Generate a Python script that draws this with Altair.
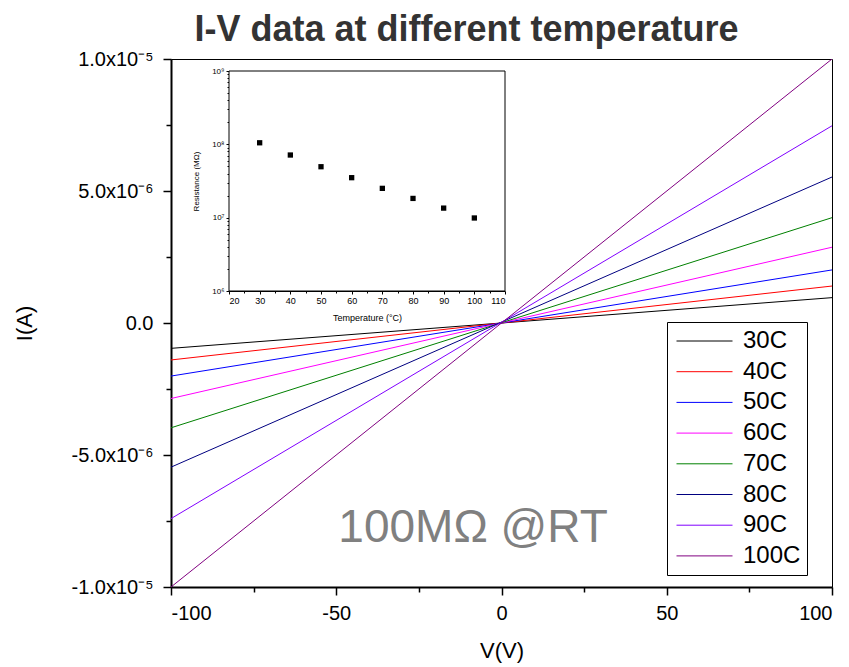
import altair as alt
import pandas as pd

# ---------------- data ----------------
temps = ["30C", "40C", "50C", "60C", "70C", "80C", "90C", "100C"]
colors = ["#000000", "#FF0000", "#0000FF", "#FF00FF", "#008000", "#000080", "#8000FF", "#800080"]
v_ends = [-100, 100]
i_at_neg100 = [-0.96e-6, -1.40e-6, -2.01e-6, -2.86e-6, -3.97e-6, -5.46e-6, -7.41e-6, -1.0e-5]
i_at_pos100 = [0.96e-6, 1.40e-6, 2.01e-6, 2.87e-6, 3.99e-6, 5.53e-6, 7.47e-6, 1.0e-5]

inset_temp = [30, 40, 50, 60, 70, 80, 90, 100]
inset_res = [1.05e8, 7.15e7, 4.95e7, 3.51e7, 2.51e7, 1.83e7, 1.35e7, 9.9e6]

x_tick_vals = [-100, -75, -50, -25, 0, 25, 50, 75, 100]
x_major = [-100, -50, 0, 50, 100]
x_labels = ["-100", "-50", "0", "50", "100"]
y_tick_vals = [-1e-5, -7.5e-6, -5e-6, -2.5e-6, 0, 2.5e-6, 5e-6, 7.5e-6, 1e-5]
y_major = [1e-5, 5e-6, 0, -5e-6, -1e-5]
y_labels = ["1.0x10\u207b\u2075", "5.0x10\u207b\u2076", "0.0", "-5.0x10\u207b\u2076", "-1.0x10\u207b\u2075"]

inset_x_vals = list(range(20, 115, 5))
inset_y_major = [1e6, 1e7, 1e8, 1e9]
inset_y_labels = ["10\u2076", "10\u2077", "10\u2078", "10\u2079"]
inset_y_vals = inset_y_major + [k * 10 ** n for n in (6, 7, 8) for k in range(2, 10)]

FONT = "Liberation Sans"

rows = []
for t, a, b in zip(temps, i_at_neg100, i_at_pos100):
    rows.append({"T": t, "V": v_ends[0], "I": a})
    rows.append({"T": t, "V": v_ends[1], "I": b})
df = pd.DataFrame(rows)


def label_map(vals, labels, tol):
    expr = "''"
    for v, l in zip(reversed(vals), reversed(labels)):
        expr = f"abs(datum.value - ({v})) < {tol} ? '{l}' : ({expr})"
    return expr


# ---------------- main axes ----------------
x_axis = alt.Axis(
    values=x_tick_vals,
    labelExpr=label_map(x_major, x_labels, 1e-6),
    title="V(V)", titleFontSize=22, titleFontWeight="normal", titlePadding=17,
    labelFontSize=20, labelPadding=8,
    tickSize={"condition": {"test": "datum.value % 50 == 0", "value": 8}, "value": 5},
    tickWidth=1.5, domainWidth=2, tickColor="black", domainColor="black",
    labelColor="black", titleColor="black", grid=False,
)
y_axis = alt.Axis(
    values=y_tick_vals,
    labelExpr=label_map(y_major, y_labels, 1e-9),
    title="I(A)", titleFontSize=22, titleFontWeight="normal", titlePadding=35,
    labelFontSize=20, labelPadding=10,
    tickSize={"condition": {"test": "abs(round(datum.value*1e7)) % 50 == 0", "value": 8}, "value": 5},
    tickWidth=1.5, domainWidth=2, tickColor="black", domainColor="black",
    labelColor="black", titleColor="black", grid=False,
)

main_x = alt.X("V:Q", scale=alt.Scale(domain=[-100, 100], nice=False, zero=False), axis=x_axis)
main_y = alt.Y("I:Q", scale=alt.Scale(domain=[-1e-5, 1e-5], nice=False), axis=y_axis)

lines = alt.Chart(df).mark_line(strokeWidth=1, clip=True).encode(
    x=main_x,
    y=main_y,
    color=alt.Color(
        "T:N",
        scale=alt.Scale(domain=temps, range=colors),
        legend=alt.Legend(
            title=None, orient="none", legendX=496, legendY=263,
            strokeColor="black", fillColor="white", padding=6,
            labelFontSize=24, labelFont=FONT, labelColor="black",
            symbolType="stroke", symbolSize=3136, symbolStrokeWidth=1,
            clipHeight=26, rowPadding=4.7, labelOffset=10, symbolOffset=3,
        ),
    ),
    detail="T:N",
)

annot_df = pd.DataFrame({"V": [-8.6], "I": [-8.3e-6], "txt": ["100M\u03a9 @RT"]})
annot = alt.Chart(annot_df).mark_text(
    fontSize=46, color="#808080", baseline="alphabetic", align="center", font=FONT
).encode(x=main_x, y=main_y, text="txt:N")

main = alt.layer(lines, annot)

# ---------------- inset ----------------
plot_h = 528
ix_axis = alt.Axis(
    orient="bottom", offset=-(plot_h - 232), values=inset_x_vals,
    labelExpr="datum.value % 10 == 0 ? datum.label : ''",
    title="Temperature (\u00b0C)", titleFontSize=9, titleFontWeight="normal", titlePadding=8,
    labelFontSize=9, labelPadding=2,
    tickSize={"condition": {"test": "datum.value % 10 == 0", "value": 3}, "value": 2},
    tickColor="black", domainColor="black", labelColor="black", titleColor="black", grid=False,
)
iy_axis = alt.Axis(
    orient="left", offset=-58, values=inset_y_vals,
    labelExpr=label_map(inset_y_major, inset_y_labels, 1),
    title="Resistance (M\u03a9)", titleFontSize=8, titleFontWeight="normal", titlePadding=11,
    labelFontSize=8, labelPadding=2,
    tickSize={"condition": {"test": "abs(log(datum.value)/LN10 - round(log(datum.value)/LN10)) < 1e-6", "value": 3}, "value": 2},
    tickColor="black", domainColor="black", labelColor="black", titleColor="black", grid=False,
)
ix = alt.X("T:Q", scale=alt.Scale(domain=[20, 110], range=[58, 334], nice=False, zero=False), axis=ix_axis)
iy = alt.Y("R:Q", scale=alt.Scale(type="log", domain=[1e6, 1e9], range=[232, 12], nice=False), axis=iy_axis)

frame_df = pd.DataFrame({"T": [20], "T2": [110], "R": [1e6], "R2": [1e9]})
frame = alt.Chart(frame_df).mark_rect(fill="white", stroke="black", strokeWidth=1).encode(
    x=ix, x2="T2:Q", y=iy, y2="R2:Q"
)
pts = alt.Chart(pd.DataFrame({"T": inset_temp, "R": inset_res})).mark_square(
    size=28, color="black", opacity=1
).encode(x=ix, y=iy)

inset = alt.layer(frame, pts)

chart = alt.layer(main, inset).resolve_scale(
    x="independent", y="independent"
).properties(
    width=661, height=plot_h,
    padding={"left": 163, "top": 51, "right": 9, "bottom": 80},
    autosize=alt.AutoSizeParams(type="none"),
    title=alt.TitleParams(
        "I-V data at different temperature", fontSize=36, fontWeight="bold",
        color="#333333", anchor="middle", dx=-35, offset=0, font=FONT,
    ),
).configure(font=FONT).configure_view(stroke="black", strokeWidth=1)

chart.save("out.html", embed_options={"renderer": "svg", "actions": False})
